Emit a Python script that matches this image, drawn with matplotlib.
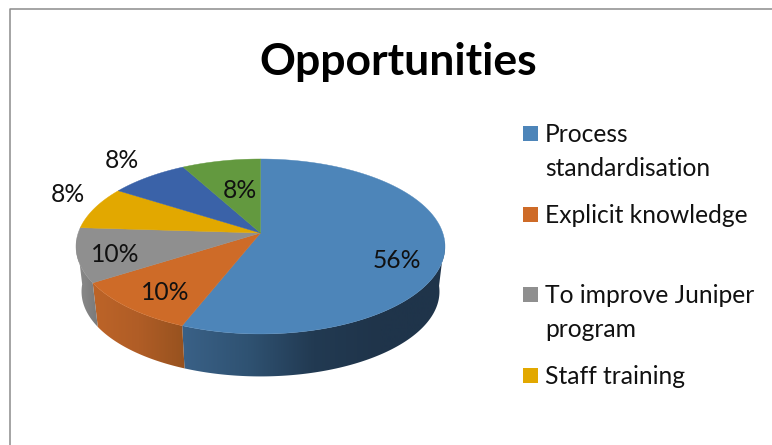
import numpy as np
import matplotlib
matplotlib.use("Agg")
import matplotlib.pyplot as plt
from matplotlib.colors import LinearSegmentedColormap
from matplotlib.patches import Polygon, Rectangle

plt.rcParams['font.family'] = ['Lato', 'DejaVu Sans']

values = [56, 10, 10, 8, 8, 8]
top_colors = ['#4d85b9', '#ce6b28', '#8f8f8f', '#e2a800', '#3a62a8', '#63993f']
legend_labels = ['Process\nstandardisation', 'Explicit knowledge',
                 'To improve Juniper\nprogram', 'Staff training']
title = 'Opportunities'

# pie geometry, in pixels
cx, cy = 260.5, 233
A, B, k = 182.3, 85.4, 0.154
side_scale, side_drop = 0.97, 45.5

# side wall gradients for the three wedges that face the viewer
side_colors = [['#3a6187', '#2f5272', '#223a52', '#1f344a', '#1f344a'],
               ['#bd6428', '#b05d26', '#97521f'],
               ['#8c8c8c', '#7a7a7a']]

label_pos = [(397, 261), (165, 292), (115, 254), (68, 195), (122, 160), (240, 190)]
legend_y = [133.5, 214.5, 294.5, 375.5]


def project(theta, scale=1.0, drop=0.0):
    # theta runs clockwise from 12 o'clock, perspective squeezes the far side
    u, v = np.sin(theta), np.cos(theta)
    w = 1 + k * v
    return cx + scale * A * u / w, cy + drop - scale * B * v / w


fig = plt.figure(figsize=(7.72, 4.45), dpi=100)
ax = fig.add_axes([0, 0, 1, 1])
ax.set_xlim(0, 772)
ax.set_ylim(445, 0)
ax.axis('off')

# chart border, only top and left reach inside the image
ax.plot([9.5, 9.5, 772], [445, 9, 9], color='#8c8c8c', lw=1.1)

edges = np.radians(np.cumsum([0] + values) * 3.6)

# side wall: only the part of each wedge on the near half shows
for i, cols in enumerate(side_colors):
    t0 = edges[i]
    t1 = min(edges[i + 1], np.radians(266))
    if i == 0:
        t0 = np.radians(95)
    t = np.linspace(t0, t1, 120)
    xt, yt = project(t)
    xb, yb = project(t, side_scale, side_drop)
    poly = Polygon(np.r_[np.c_[xt, yt], np.c_[xb, yb][::-1]], closed=True,
                   fc='none', ec='none')
    ax.add_patch(poly)
    cmap = LinearSegmentedColormap.from_list('side%d' % i, cols)
    grad = np.linspace(0, 1, 256).reshape(1, -1)
    left, right = min(xt.min(), xb.min()), max(xt.max(), xb.max())
    im = ax.imshow(grad, cmap=cmap, aspect='auto',
                   extent=[left, right, 445, 0], zorder=1)
    im.set_clip_path(poly)
ax.set_xlim(0, 772)
ax.set_ylim(445, 0)

# top face
for i, v in enumerate(values):
    t = np.linspace(edges[i], edges[i + 1], 100)
    x, y = project(t)
    ax.add_patch(Polygon(np.r_[[[cx, cy]], np.c_[x, y]], closed=True,
                         fc=top_colors[i], ec=top_colors[i], lw=0.3, zorder=2))
    ax.text(label_pos[i][0], label_pos[i][1], '%d%%' % v, fontsize=17.7,
            ha='center', va='center', color='#111111', zorder=3)

ax.text(398, 62, title, fontsize=32, fontweight='bold', ha='center', va='center',
        color='black')

# legend: only the first four categories fit in the box
for i, lab in enumerate(legend_labels):
    ax.add_patch(Rectangle((523, legend_y[i] - 7.5), 15, 15, fc=top_colors[i], ec='none'))
    ax.text(545, legend_y[i] - 10.5, lab, fontsize=17.7, ha='left', va='top',
            linespacing=1.58, color='#111111')

fig.savefig('out.png', dpi=100)
